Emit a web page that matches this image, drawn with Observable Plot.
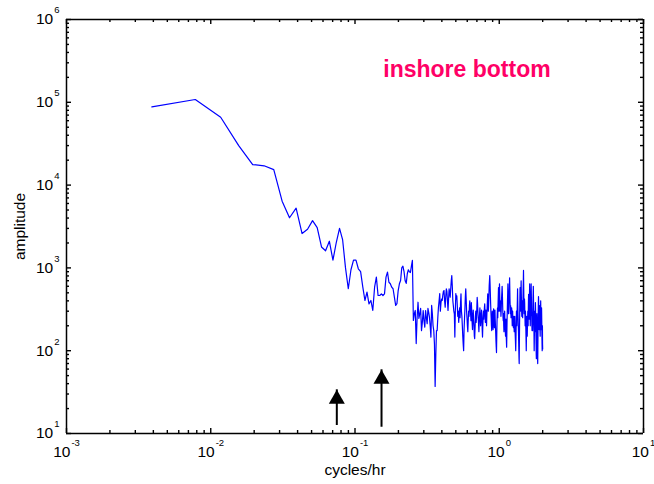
<!DOCTYPE html>
<html><head><meta charset="utf-8">
<script src="https://cdn.jsdelivr.net/npm/d3@7"></script>
<script src="https://cdn.jsdelivr.net/npm/@observablehq/plot@0.6"></script>
<style>html,body{margin:0;padding:0;background:#fff;} svg{display:block}</style>
</head><body><div id="chart"></div>
<script>
// ---- data ----
const freqStep = 1 / 256; // cycles/hr between spectral estimates (first point ~0.0039, last ~2)
const ampLow = [88000, 108000, 66000, 30000, 17700, 17100, 15400, 6400, 4030, 5260,
  2600, 2930, 3720, 3060, 1790, 1610, 2100, 1240, 2040, 3000,
  2200, 1000, 560, 950, 1240, 1240, 976, 900, 585, 404,
  509, 368, 404, 306, 585, 773, 464, 464, 486, 464,
  486, 773, 888, 671, 643, 585, 560, 443, 352, 370,
  533, 643, 705, 1000, 1050, 900, 700, 650, 850, 950,
  900, 880, 1050, 1230];
const ampMid = [232, 280, 306, 122, 250, 385,
  245, 280, 324, 175, 220, 306, 230, 193, 306, 250,
  212, 324, 290, 254, 200, 146, 352, 280, 200, 175,
  120, 37, 90, 175, 175, 250, 335, 400, 490, 300,
  380, 420, 404, 470, 520, 533, 400, 335, 450, 560,
  520, 400, 306, 420, 560, 500, 443, 560, 700, 809,
  600, 404, 350, 300, 279, 146, 300, 490, 420, 460];
const ampHigh = [350, 260, 300, 220, 280, 330, 250, 380, 486, 300,
  260, 200, 150, 120, 100, 180, 240, 320, 450, 560,
  420, 300, 250, 200, 170, 230, 300, 260, 350, 400,
  330, 280, 230, 380, 300, 220, 180, 260, 310, 240,
  200, 150, 140, 190, 260, 300, 220, 250, 330, 440,
  380, 300, 250, 210, 170, 230, 280, 330, 260, 200,
  230, 270, 310, 250, 180, 146, 200, 260, 300, 240,
  280, 330, 368, 300, 220, 260, 310, 250, 200, 270,
  330, 400, 486, 380, 300, 350, 450, 600, 700, 809,
  650, 500, 380, 300, 250, 200, 175, 230, 300, 260,
  220, 180, 250, 320, 280, 230, 190, 260, 310, 240,
  200, 160, 130, 110, 95, 150, 220, 280, 330, 250,
  350, 450, 580, 420, 300, 500, 643, 480, 350, 300,
  400, 330, 260, 300, 380, 450, 520, 600, 500, 380,
  300, 250, 230, 280, 200, 170, 220, 260, 300, 240,
  200, 170, 150, 190, 240, 160, 130, 110, 160, 230,
  300, 400, 500, 643, 450, 350, 280, 330, 420, 500,
  600, 760, 550, 400, 330, 280, 350, 300, 250, 300,
  280, 330, 306, 250, 200, 260, 300, 240, 200, 230,
  190, 220, 260, 200, 170, 190, 230, 260, 200, 160,
  140, 120, 100, 130, 180, 240, 300, 250, 200, 260,
  330, 420, 560, 400, 300, 250, 200, 170, 130, 100,
  80, 70, 120, 200, 300, 450, 580, 400, 300, 360,
  450, 560, 700, 500, 380, 300, 260, 330, 400, 350,
  300, 250, 320, 420, 560, 700, 931, 650, 450, 330,
  280, 350, 420, 380, 300, 250, 200, 240, 300, 260,
  200, 160, 130, 100, 140, 200, 260, 200, 170, 150,
  180, 220, 260, 300, 240, 200, 300, 400, 480, 350,
  280, 240, 300, 380, 500, 643, 450, 330, 260, 200,
  250, 300, 380, 450, 550, 643, 500, 400, 300, 250,
  200, 175, 230, 280, 200, 175, 250, 330, 420, 500,
  600, 450, 330, 250, 200, 150, 100, 130, 180, 250,
  300, 250, 200, 170, 300, 380, 320, 260, 200, 150,
  120, 90, 80, 120, 180, 230, 280, 220, 180, 150,
  110, 80, 70, 100, 150, 220, 300, 380, 450, 400,
  330, 260, 200, 180, 220, 280, 350, 300, 240, 200,
  170, 150, 200, 260, 330, 400, 300, 240, 200, 180,
  220, 280, 330, 260, 200, 150, 120, 100, 140, 200,
  120, 105];

const arrowFreq = [0.0748, 0.1527];
const arrowBase = [12.5, 11.9];
const arrowTip = [33.7, 58.8];

const noteText = ["inshore bottom"];
const noteFreq = [0.157];
const noteAmp = [2.47e5];

const xDomain = [1e-3, 10];
const yDomain = [1e1, 1e6];
const xDecades = [1e-3, 1e-2, 1e-1, 1, 10];
const xTickLabels = ["10^-3", "10^-2", "10^-1", "10^0", "10^1"];
const yDecades = [1e1, 1e2, 1e3, 1e4, 1e5, 1e6];
const yTickLabels = ["10^1", "10^2", "10^3", "10^4", "10^5", "10^6"];
const xTitle = "cycles/hr";
const yTitle = "amplitude";

// ---- build tables ----
const amps = ampLow.concat(ampMid, ampHigh);
const spectrum = amps.map((a, i) => ({f: (i + 1) * freqStep, a}));
const arrows = arrowFreq.map((f, i) => ({f, base: arrowBase[i], tip: arrowTip[i]}));
const notes = noteText.map((t, i) => ({t, f: noteFreq[i], a: noteAmp[i]}));
const minorOf = (dec) => dec.slice(0, -1).flatMap(d => [2,3,4,5,6,7,8,9].map(m => d * m));
const xMinor = minorOf(xDecades);
const yMinor = minorOf(yDecades);

const W = 654, H = 484, ML = 66, MR = 11, MT = 19, MB = 51;
const FW = W - ML - MR, FH = H - MT - MB;
const MAJ = 5, MIN = 3;
const TICKW = 1.4, FRAMEW = 1.5;

const chart = Plot.plot({
  width: W, height: H,
  marginLeft: ML, marginRight: MR, marginTop: MT, marginBottom: MB,
  x: {type: "log", domain: xDomain},
  y: {type: "log", domain: yDomain},
  style: {fontFamily: "'Liberation Sans', Arial, sans-serif", fontSize: "15.5px", background: "#fff", color: "#000", overflow: "visible"},
  marks: [
    // ticks inside the box on all four sides
    Plot.tickX(xDecades, {x: d => d, insetTop: FH - MAJ, stroke: "#000", strokeWidth: TICKW}),
    Plot.tickX(xDecades, {x: d => d, insetBottom: FH - MAJ, stroke: "#000", strokeWidth: TICKW}),
    Plot.tickX(xMinor, {x: d => d, insetTop: FH - MIN, stroke: "#000", strokeWidth: TICKW}),
    Plot.tickX(xMinor, {x: d => d, insetBottom: FH - MIN, stroke: "#000", strokeWidth: TICKW}),
    Plot.tickY(yDecades, {y: d => d, insetRight: FW - MAJ, stroke: "#000", strokeWidth: TICKW}),
    Plot.tickY(yDecades, {y: d => d, insetLeft: FW - MAJ, stroke: "#000", strokeWidth: TICKW}),
    Plot.tickY(yMinor, {y: d => d, insetRight: FW - MIN, stroke: "#000", strokeWidth: TICKW}),
    Plot.tickY(yMinor, {y: d => d, insetLeft: FW - MIN, stroke: "#000", strokeWidth: TICKW}),
    Plot.axisX({ticks: xDecades, anchor: "bottom", tickSize: 0, tickPadding: 12.5,
      tickFormat: d => xTickLabels[xDecades.indexOf(d)], label: null}),
    Plot.axisY({ticks: yDecades, anchor: "left", tickSize: 0, tickPadding: 7,
      tickFormat: d => yTickLabels[yDecades.indexOf(d)], label: null}),
    Plot.text([xTitle], {frameAnchor: "bottom", lineAnchor: "middle", textAnchor: "middle", dy: 37, fontSize: 15.5, fill: "#000"}),
    Plot.text([yTitle], {frameAnchor: "left", lineAnchor: "middle", textAnchor: "middle", rotate: -90, dx: -46, fontSize: 15.5, fill: "#000"}),
    Plot.line(spectrum, {x: "f", y: "a", stroke: "#0000ff", strokeWidth: 1.2}),
    Plot.ruleX(arrows, {x: "f", y1: "base", y2: "tip", stroke: "#000", strokeWidth: 2}),
    Plot.dot(arrows, {x: "f", y: "tip", symbol: "triangle", r: 5.94, dy: 9.24, fill: "#000", stroke: "none"}),
    Plot.text(notes, {x: "f", y: "a", text: "t", textAnchor: "start", fill: "#ff0066", fontWeight: "bold", fontSize: 23}),
    // box drawn as rules at the domain limits
    Plot.ruleX(xDomain, {x: d => d, stroke: "#000", strokeWidth: FRAMEW}),
    Plot.ruleY(yDomain, {y: d => d, stroke: "#000", strokeWidth: FRAMEW})
  ]
});

// superscript exponents in the tick labels; make strokes crisp black
chart.querySelectorAll("text").forEach(t => {
  const m = /^10\^(-?\d+)$/.exec(t.textContent);
  if (m && t.children.length === 0) {
    t.setAttribute("font-size", "15.5");
    t.setAttribute("fill", "#000");
    t.textContent = "10";
    const ts = document.createElementNS("http://www.w3.org/2000/svg", "tspan");
    ts.setAttribute("font-size", "9.5");
    ts.setAttribute("dy", "-11");
    ts.setAttribute("dx", "1");
    ts.textContent = m[1];
    t.appendChild(ts);
  }
});
document.getElementById("chart").appendChild(chart);
</script></body></html>
